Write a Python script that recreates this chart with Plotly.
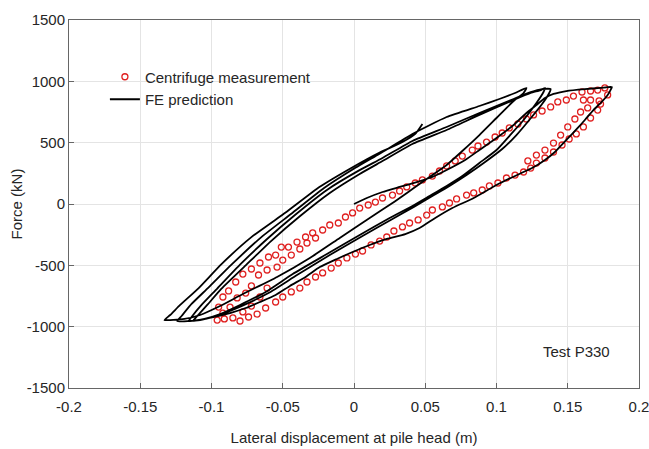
import plotly.graph_objects as go

# ---- FE prediction: load path split into branches (displacement in m, force in kN)
fe_virgin_x = [0, 0.009, 0.020, 0.032, 0.044, 0.055, 0.065, 0.078, 0.088, 0.100,
               0.112, 0.121, 0.128, 0.134, 0.140, 0.149, 0.162, 0.173, 0.181]
fe_virgin_y = [0, 49, 98, 139, 179, 220, 277, 359, 440, 538,
               644, 742, 807, 864, 897, 921, 937, 946, 954]

fe_unload1_x = [0.180, 0.178, 0.173, 0.168, 0.162, 0.157, 0.149, 0.141, 0.134, 0.125,
                0.116, 0.100, 0.084, 0.069, 0.057, 0.046, 0.036, 0.023, 0.011, -0.001,
                -0.012, -0.024, -0.034, -0.045, -0.055, -0.066, -0.076, -0.087, -0.098,
                -0.108, -0.113]
fe_unload1_y = [929, 889, 823, 766, 685, 620, 522, 424, 359, 293,
                245, 155, 49, -33, -114, -196, -245, -285, -334, -391,
                -448, -514, -595, -668, -742, -799, -848, -889, -921,
                -946, -954]

fe_load2_x = [-0.110, -0.103, -0.093, -0.076, -0.058, -0.038, -0.017, 0.004, 0.020,
              0.041, 0.065, 0.088, 0.112, 0.124, 0.131, 0.134]
fe_load2_y = [-913, -823, -690, -500, -300, -100, 90, 245, 350,
              489, 603, 726, 848, 905, 929, 946]

fe_unload2_x = [0.133, 0.128, 0.119, 0.109, 0.100, 0.088, 0.076, 0.065, 0.053, 0.041,
                0.025, 0.004, -0.019, -0.043, -0.062, -0.080, -0.094, -0.105, -0.116]
fe_unload2_y = [913, 823, 685, 554, 440, 334, 228, 147, 65, -16,
                -114, -253, -408, -571, -717, -823, -897, -937, -954]

fe_load3_x = [-0.114, -0.107, -0.096, -0.080, -0.061, -0.041, -0.019, 0.003, 0.020,
              0.041, 0.065, 0.088, 0.112, 0.124, 0.132, 0.138]
fe_load3_y = [-921, -823, -690, -495, -285, -85, 115, 270, 375,
              514, 628, 742, 856, 913, 937, 937]

fe_unload3_x = [0.137, 0.132, 0.123, 0.114, 0.104, 0.092, 0.079, 0.067, 0.055, 0.042,
                0.027, 0.006, -0.017, -0.040, -0.060, -0.079, -0.095, -0.108, -0.124]
fe_unload3_y = [905, 815, 685, 562, 448, 342, 236, 147, 65, -24,
                -122, -261, -416, -579, -726, -832, -905, -946, -954]

fe_load4_x = [-0.121, -0.114, -0.102, -0.086, -0.065, -0.044, -0.021, 0.001, 0.018,
              0.041, 0.065, 0.088, 0.102, 0.113, 0.121]
fe_load4_y = [-913, -815, -680, -495, -270, -80, 130, 295, 410,
              571, 709, 799, 856, 905, 946]

fe_unload4_x = [0.119, 0.112, 0.100, 0.088, 0.076, 0.065, 0.053, 0.041, 0.027, 0.011,
                -0.010, -0.031, -0.054, -0.078, -0.094, -0.108, -0.119, -0.133]
fe_unload4_y = [905, 840, 701, 562, 432, 318, 220, 122, 8, -114,
                -277, -440, -595, -734, -832, -905, -937, -946]

fe_load5_x = [-0.129, -0.122, -0.109, -0.093, -0.072, -0.048, -0.024, -0.001, 0.018,
              0.034, 0.043, 0.048]
fe_load5_y = [-905, -823, -685, -490, -270, -70, 140, 300, 420,
              505, 571, 652]

# ---- Centrifuge measurement (open red circles)
meas_up_x = [-0.095, -0.092, -0.088, -0.083, -0.078, -0.072, -0.066, -0.060, -0.055, -0.051,
             -0.046, -0.040, -0.034, -0.029, -0.022, -0.017, -0.011, -0.006, -0.001, 0.004,
             0.010, 0.015, 0.020, 0.027, 0.032, 0.037, 0.043, 0.048, 0.055, 0.060,
             0.065, 0.071, 0.076, 0.083, 0.087, 0.093, 0.099, 0.104, 0.109, 0.115,
             0.121, 0.126, 0.132, 0.138, 0.143, 0.149, 0.154, 0.160, 0.166, 0.171, 0.176]
meas_up_y = [-840, -758, -709, -636, -571, -530, -481, -432, -416, -351,
             -351, -310, -269, -236, -212, -171, -155, -106, -73, -33,
             -8, 16, 49, 73, 106, 139, 171, 196, 228, 269,
             310, 351, 391, 440, 473, 505, 546, 579, 620, 652,
             693, 726, 758, 791, 832, 848, 880, 913, 921, 929, 946]

meas_down_x = [0.178, 0.173, 0.171, 0.166, 0.161, 0.156, 0.151, 0.146, 0.140, 0.134,
               0.128, 0.124, 0.119, 0.113, 0.107, 0.101, 0.095, 0.090, 0.084, 0.079,
               0.072, 0.067, 0.062, 0.055, 0.051, 0.045, 0.039, 0.034, 0.028, 0.023,
               0.018, 0.012, 0.006, 0.001, -0.005, -0.011, -0.016, -0.022, -0.027, -0.033,
               -0.038, -0.044, -0.050, -0.055, -0.062, -0.068, -0.074, -0.080, -0.085,
               -0.091, -0.096]
meas_down_y = [889, 815, 766, 701, 628, 571, 530, 481, 424, 375,
               334, 293, 261, 236, 212, 171, 147, 114, 90, 73,
               41, 8, -24, -49, -90, -130, -155, -187, -220, -269,
               -302, -334, -383, -408, -440, -481, -522, -562, -595, -636,
               -685, -717, -758, -799, -848, -897, -921, -954, -929,
               -937, -946]

meas_inner_x = [-0.087, -0.082, -0.076, -0.072, -0.067, -0.061, -0.054, -0.050, -0.044,
                -0.038, -0.033, -0.027, -0.092, -0.078, -0.072, -0.066, -0.061,
                0.161, 0.166, 0.172, 0.164, 0.159, 0.155, 0.150, 0.145, 0.140,
                0.134, 0.128, 0.122]
meas_inner_y = [-840, -766, -726, -668, -579, -538, -514, -457, -416,
                -367, -318, -277, -889, -880, -832, -758, -685,
                848, 848, 840, 783, 750, 693, 628, 562, 497,
                440, 399, 351]

x_ticks = [-0.2, -0.15, -0.1, -0.05, 0, 0.05, 0.1, 0.15, 0.2]
x_tick_labels = ["-0.2", "-0.15", "-0.1", "-0.05", "0", "0.05", "0.1", "0.15", "0.2"]
y_ticks = [-1500, -1000, -500, 0, 500, 1000, 1500]
y_tick_labels = ["-1500", "-1000", "-500", "0", "500", "1000", "1500"]

FONT = "Liberation Sans, Arial, sans-serif"
TXT = "#262626"

fe_x = (fe_virgin_x + fe_unload1_x + fe_load2_x + fe_unload2_x + fe_load3_x
        + fe_unload3_x + fe_load4_x + fe_unload4_x + fe_load5_x)
fe_y = (fe_virgin_y + fe_unload1_y + fe_load2_y + fe_unload2_y + fe_load3_y
        + fe_unload3_y + fe_load4_y + fe_unload4_y + fe_load5_y)

fig = go.Figure()

fig.add_trace(go.Scatter(
    x=meas_up_x + meas_down_x + meas_inner_x,
    y=meas_up_y + meas_down_y + meas_inner_y,
    mode="markers",
    name="Centrifuge measurement",
    marker=dict(symbol="circle-open", size=6, color="#e02020", line=dict(width=1.3)),
))

fig.add_trace(go.Scatter(
    x=fe_x,
    y=fe_y,
    mode="lines",
    name="FE prediction",
    line=dict(color="black", width=1.8, shape="spline", smoothing=0.5),
))

# white patch behind the legend hides the grid there
fig.add_shape(type="rect", xref="x domain", yref="y domain",
              x0=0.081, x1=0.419, y0=0.62, y1=0.891,
              fillcolor="white", line_width=0, layer="below")

fig.add_annotation(text="Test P330", xref="paper", yref="paper",
                   x=0.891, y=0.098, xanchor="center", yanchor="middle",
                   showarrow=False,
                   font=dict(family=FONT, size=15, color=TXT))

axis_style = dict(
    showgrid=True, gridcolor="#e4e4e4", gridwidth=1,
    showline=True, linecolor="#666", linewidth=1, mirror=True,
    ticks="inside", ticklen=5, tickcolor="#666",
    zeroline=False, automargin=False, ticklabeloverflow="allow",
    tickfont=dict(family=FONT, size=15, color=TXT),
)

fig.update_xaxes(range=[-0.2, 0.2], tickvals=x_ticks, ticktext=x_tick_labels,
                 ticklabelstandoff=5,
                 title=dict(text="Lateral displacement at pile head (m)",
                            font=dict(family=FONT, size=15, color=TXT),
                            standoff=18),
                 **axis_style)
fig.update_yaxes(range=[-1500, 1500], tickvals=y_ticks, ticktext=y_tick_labels,
                 title=dict(text="Force (kN)",
                            font=dict(family=FONT, size=15, color=TXT),
                            standoff=0),
                 **axis_style)

fig.update_layout(
    width=649,
    height=449,
    margin=dict(l=69, r=10, t=20, b=61),
    plot_bgcolor="white",
    paper_bgcolor="white",
    showlegend=True,
    legend=dict(x=0.063, y=0.89, xanchor="left", yanchor="top",
                bgcolor="rgba(0,0,0,0)", borderwidth=0,
                font=dict(family=FONT, size=15, color=TXT),
                itemwidth=30, tracegroupgap=0),
)

# drop the default page margin so the figure sits at the window's corner
fig.write_html("out.html", config={"displayModeBar": False},
               post_script="document.body.style.margin = '0';")
